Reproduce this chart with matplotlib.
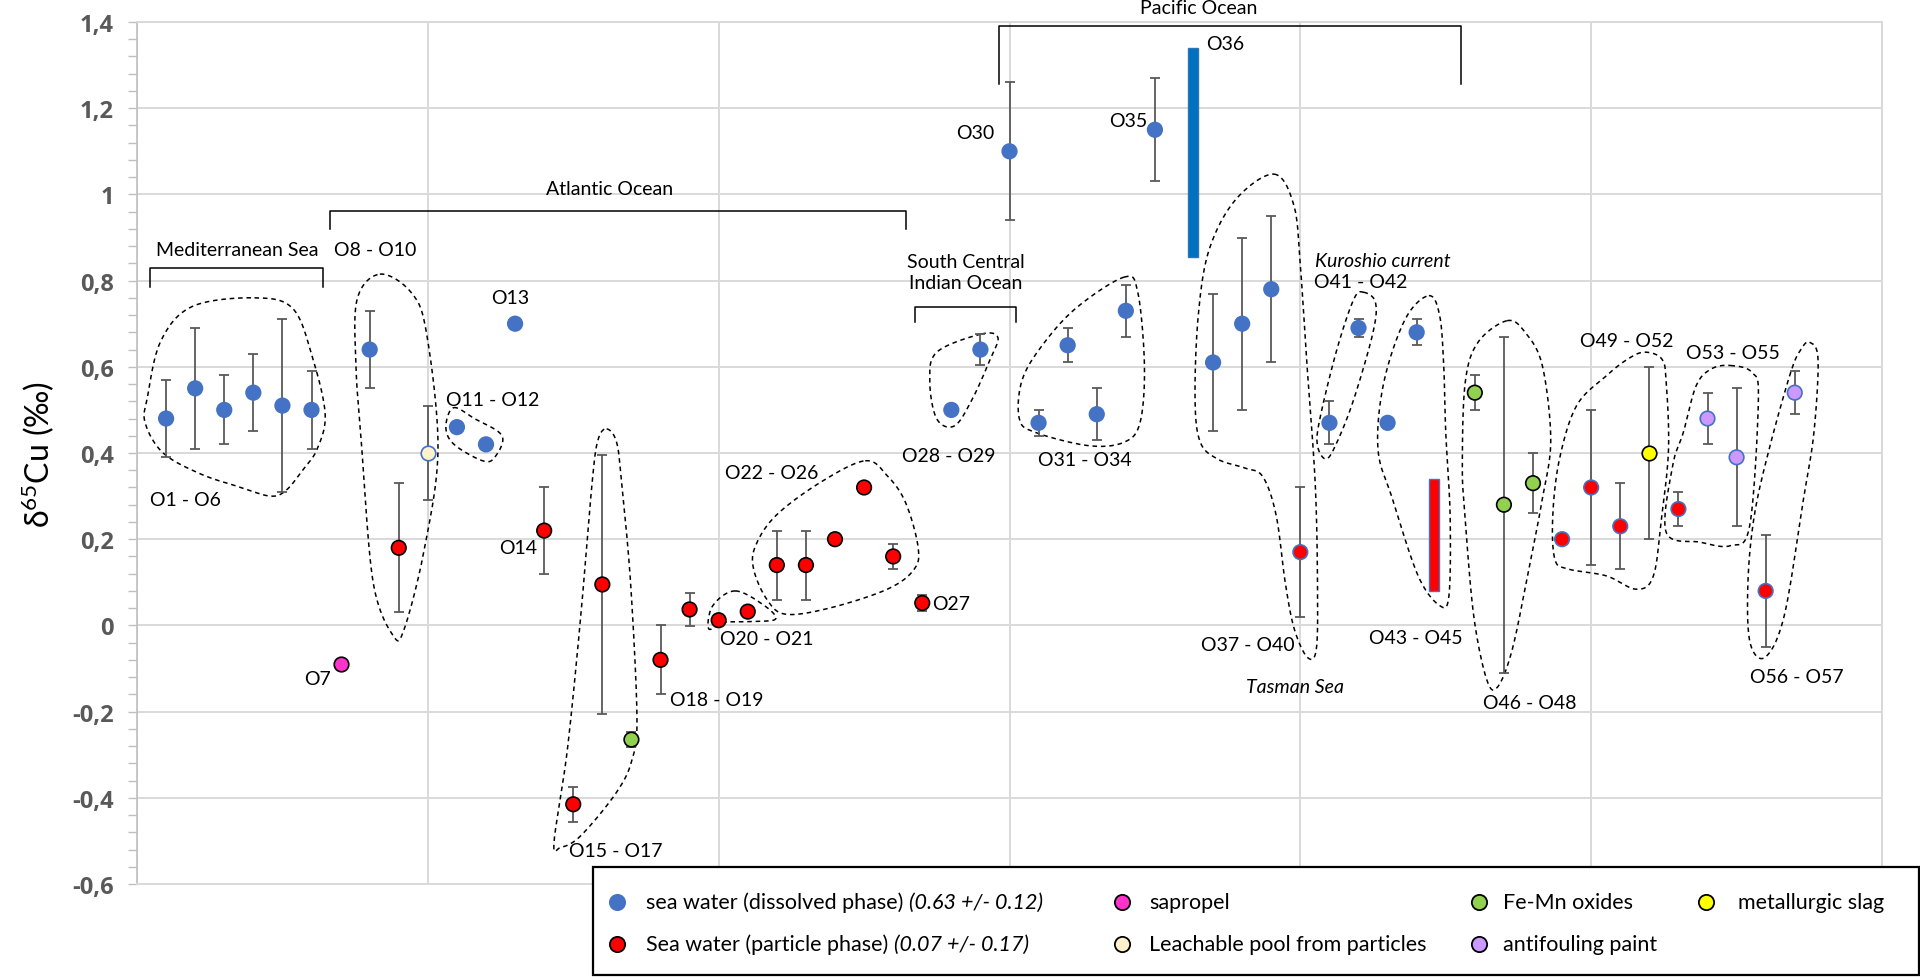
import numpy as np
import matplotlib
matplotlib.use("Agg")
import matplotlib.pyplot as plt
from matplotlib.lines import Line2D
from matplotlib.patches import Rectangle
from matplotlib.ticker import MultipleLocator

plt.rcParams['font.family'] = ['Lato', 'DejaVu Sans']
plt.rcParams['mathtext.fontset'] = 'custom'
plt.rcParams['mathtext.rm'] = 'Lato'
plt.rcParams['mathtext.it'] = 'Lato:italic'

# ---- data (sample index, delta65Cu, +/- error, kind) ----
sample_x = [1, 2, 3, 4, 5, 6, 7, 8, 9, 10, 11, 12, 13, 14, 15, 16, 17, 18, 19, 20,
            21, 22, 23, 24, 25, 26, 27, 28, 29, 30, 31, 32, 33, 34, 35, 37, 38, 39, 40,
            41, 42, 43, 44, 46, 47, 48, 49, 50, 51, 52, 53, 54, 55, 56, 57]
sample_val = [0.48, 0.55, 0.50, 0.54, 0.51, 0.50, -0.09, 0.64, 0.18, 0.40, 0.46, 0.42, 0.70,
              0.22, -0.415, 0.095, -0.265, -0.08, 0.037, 0.012, 0.032, 0.14, 0.14, 0.20, 0.32,
              0.16, 0.052, 0.50, 0.64, 1.10, 0.47, 0.65, 0.49, 0.73, 1.15, 0.61, 0.70, 0.78,
              0.17, 0.47, 0.69, 0.47, 0.68, 0.54, 0.28, 0.33, 0.20, 0.32, 0.23, 0.40, 0.27,
              0.48, 0.39, 0.08, 0.54]
sample_err = [0.09, 0.14, 0.08, 0.09, 0.20, 0.09, 0, 0.09, 0.15, 0.11, 0, 0, 0,
              0.10, 0.04, 0.30, 0.018, 0.08, 0.038, 0, 0, 0.08, 0.08, 0, 0,
              0.03, 0.018, 0, 0.035, 0.16, 0.03, 0.04, 0.06, 0.06, 0.12, 0.16, 0.20, 0.17,
              0.15, 0.05, 0.02, 0, 0.03, 0.04, 0.39, 0.07, 0, 0.18, 0.10, 0.20, 0.04,
              0.06, 0.16, 0.13, 0.05]
sample_kind = (['dissolved'] * 6 + ['sapropel', 'dissolved', 'particle', 'leach'] +
               ['dissolved'] * 3 + ['particle', 'particle', 'particle', 'femn'] +
               ['particle'] * 10 + ['dissolved'] * 11 + ['particle'] +
               ['dissolved'] * 4 + ['femn'] * 3 + ['particle'] * 3 + ['slag', 'particle'] +
               ['paint', 'paint', 'particle', 'paint'])
blue_edged = [40, 49, 50, 51, 53, 56]

# ranges drawn as bars (O36, O45)
range_x = [36.3, 44.6]
range_low = [0.855, 0.08]
range_high = [1.34, 0.34]

kind_style = {
    'dissolved': ('#4472C4', '#4472C4'),
    'particle': ('#FF0000', '#000000'),
    'sapropel': ('#FF33CC', '#000000'),
    'leach': ('#FFF2CC', '#4472C4'),
    'femn': ('#92D050', '#000000'),
    'slag': ('#FFFF00', '#000000'),
    'paint': ('#CC99FF', '#4472C4'),
}

# hand drawn group outlines (annotation shapes, data coords)
outlines = [
    [(4.04, 0.76), (5.36, 0.735), (6.04, 0.62), (6.47, 0.49), (6.2, 0.41), (5.73, 0.363),
     (5.12, 0.313), (4.58, 0.30), (3.58, 0.32), (2.2, 0.351), (0.9, 0.40), (0.28, 0.47),
     (0.36, 0.53), (0.82, 0.66), (1.9, 0.74)],
    [(8.35, 0.815), (9.42, 0.773), (9.95, 0.68), (10.35, 0.41), (9.88, 0.177), (9.19, -0.008),
     (8.81, -0.024), (8.12, 0.10), (7.73, 0.41), (7.53, 0.60), (7.57, 0.757)],
    [(10.88, 0.505), (11.6, 0.48), (12.55, 0.44), (12.3, 0.39), (11.88, 0.382), (10.9, 0.42),
     (10.62, 0.46)],
    [(16.15, 0.456), (16.49, 0.425), (16.66, 0.332), (16.97, 0.1), (17.19, -0.21), (17.03, -0.31),
     (16.49, -0.387), (15.26, -0.488), (14.57, -0.515), (14.34, -0.503), (14.8, -0.287),
     (15.26, 0.023), (15.65, 0.332), (15.85, 0.43)],
    [(20.57, 0.08), (21.57, 0.046), (21.96, 0.015), (21.2, 0.009), (20.2, 0.007), (19.66, -0.008),
     (19.8, 0.046)],
    [(25.04, 0.382), (25.8, 0.347), (26.42, 0.286), (26.85, 0.185), (26.73, 0.131), (25.8, 0.084),
     (23.8, 0.04), (22.3, 0.026), (21.65, 0.061), (21.2, 0.131), (21.27, 0.185), (21.97, 0.255),
     (23.5, 0.332)],
    [(29.03, 0.676), (29.6, 0.668), (29.34, 0.618), (28.72, 0.525), (28.11, 0.463), (27.5, 0.479),
     (27.26, 0.564), (27.5, 0.634)],
    [(33.94, 0.808), (34.41, 0.773), (34.64, 0.603), (34.49, 0.471), (33.94, 0.425), (32.72, 0.417),
     (30.88, 0.448), (30.34, 0.479), (30.41, 0.564), (31.03, 0.641), (32.25, 0.734)],
    [(39.1, 1.047), (39.78, 0.974), (40.0, 0.835), (40.23, 0.603), (40.51, 0.332), (40.59, 0.1),
     (40.55, -0.055), (40.24, -0.074), (39.79, -0.008), (39.48, 0.1), (39.17, 0.255),
     (38.71, 0.345), (38.1, 0.365), (37.18, 0.385), (36.56, 0.425), (36.38, 0.525),
     (36.49, 0.719), (36.87, 0.873), (37.79, 0.989)],
    [(42.17, 0.773), (42.58, 0.75), (42.5, 0.68), (41.84, 0.525), (41.26, 0.425), (40.89, 0.386),
     (40.59, 0.417), (40.67, 0.479), (41.26, 0.641), (41.84, 0.757)],
    [(44.42, 0.765), (44.79, 0.719), (44.93, 0.603), (45.0, 0.448), (45.15, 0.255), (45.11, 0.069),
     (44.79, 0.046), (44.05, 0.115), (43.17, 0.293), (42.67, 0.409), (42.87, 0.564), (43.61, 0.711)],
    [(47.11, 0.707), (47.73, 0.68), (48.32, 0.603), (48.61, 0.43), (48.32, 0.293), (47.88, 0.139),
     (47.29, -0.055), (46.77, -0.144), (46.4, -0.124), (45.96, 0.023), (45.66, 0.255),
     (45.57, 0.371), (45.67, 0.564), (46.11, 0.657)],
    [(51.84, 0.634), (52.43, 0.618), (52.58, 0.564), (52.66, 0.409), (52.43, 0.255), (52.14, 0.115),
     (51.55, 0.084), (50.52, 0.115), (49.2, 0.131), (48.75, 0.154), (48.68, 0.255), (48.91, 0.386),
     (49.5, 0.51), (50.52, 0.579), (51.26, 0.618)],
    [(54.79, 0.603), (55.53, 0.587), (55.75, 0.525), (55.45, 0.231), (54.79, 0.185), (53.76, 0.193),
     (52.58, 0.216), (52.8, 0.37), (53.17, 0.448), (53.61, 0.556), (54.13, 0.595)],
    [(57.51, 0.657), (57.8, 0.618), (57.66, 0.448), (57.3, 0.293), (56.64, 0.023), (55.98, -0.074),
     (55.46, -0.039), (55.39, 0.1), (55.61, 0.255), (56.12, 0.409), (56.86, 0.587), (57.22, 0.641)],
]

# brackets: x start, x end, top, leg bottom
brackets = [(0.45, 6.4, 0.83, 0.784), (6.65, 26.45, 0.961, 0.92),
            (26.76, 30.23, 0.738, 0.704), (29.64, 45.52, 1.391, 1.257)]

labels = [
    ("Mediterranean Sea", 3.43, 0.873, 'normal', 'center'),
    ("O1 - O6", 1.66, 0.292, 'normal', 'center'),
    ("O7", 6.2, -0.124, 'normal', 'center'),
    ("O8 - O10", 8.19, 0.873, 'normal', 'center'),
    ("O11 - O12", 12.23, 0.525, 'normal', 'center'),
    ("O13", 12.83, 0.76, 'normal', 'center'),
    ("O14", 13.11, 0.181, 'normal', 'center'),
    ("O15 - O17", 16.46, -0.523, 'normal', 'center'),
    ("O18 - O19", 19.92, -0.171, 'normal', 'center'),
    ("O20 - O21", 21.65, -0.03, 'normal', 'center'),
    ("O22 - O26", 21.84, 0.355, 'normal', 'center'),
    ("O27", 27.34, 0.05, 'normal', 'left'),
    ("Atlantic Ocean", 16.25, 1.014, 'normal', 'center'),
    ("South Central\nIndian Ocean", 28.49, 0.82, 'normal', 'center'),
    ("O28 - O29", 27.92, 0.395, 'normal', 'center'),
    ("O30", 28.83, 1.144, 'normal', 'center'),
    ("O31 - O34", 32.6, 0.384, 'normal', 'center'),
    ("O35", 34.07, 1.171, 'normal', 'center'),
    ("O36", 37.41, 1.349, 'normal', 'center'),
    ("Pacific Ocean", 36.49, 1.434, 'normal', 'center'),
    ("O37 - O40", 38.18, -0.045, 'normal', 'center'),
    ("Tasman Sea", 39.8, -0.141, 'italic', 'center'),
    ("Kuroshio current", 42.82, 0.846, 'italic', 'center'),
    ("O41 - O42", 42.08, 0.798, 'normal', 'center'),
    ("O43 - O45", 43.98, -0.028, 'normal', 'center'),
    ("O46 - O48", 47.9, -0.178, 'normal', 'center'),
    ("O49 - O52", 51.22, 0.66, 'normal', 'center'),
    ("O53 - O55", 54.86, 0.634, 'normal', 'center'),
    ("O56 - O57", 57.07, -0.118, 'normal', 'center'),
]


def smooth_closed(pts, n=24):
    """closed Catmull-Rom curve through the control points"""
    P = np.array(pts, dtype=float)
    k = len(P)
    t = np.linspace(0, 1, n, endpoint=False)[:, None]
    seg = []
    for i in range(k):
        p0, p1, p2, p3 = P[(i - 1) % k], P[i], P[(i + 1) % k], P[(i + 2) % k]
        seg.append(0.5 * (2 * p1 + (-p0 + p2) * t + (2 * p0 - 5 * p1 + 4 * p2 - p3) * t ** 2
                          + (-p0 + 3 * p1 - 3 * p2 + p3) * t ** 3))
    out = np.vstack(seg)
    return np.vstack([out, out[:1]])


W, H = 1920, 978
fig = plt.figure(figsize=(W / 100, H / 100), dpi=100)
ax = fig.add_axes([137 / W, 93 / H, 1745 / W, 862 / H])
ax.set_xlim(0, 60)
ax.set_ylim(-0.6, 1.4)

# grid / axes look
ax.set_xticks(range(0, 61, 10))
ax.tick_params(axis='x', length=0, labelbottom=False)
ax.yaxis.set_minor_locator(MultipleLocator(0.04))
ax.tick_params(axis='y', which='both', direction='out', length=6.5, width=1, color='#BFBFBF',
               labelsize=17, labelcolor='#595959', pad=10)
yt = [round(v, 1) for v in np.arange(-0.6, 1.41, 0.2)]
ax.set_yticks(yt, ['{:g}'.format(v).replace('.', ',') for v in yt])
for lab in ax.get_yticklabels():
    lab.set_fontfamily(['Open Sans', 'Noto Sans', 'DejaVu Sans'])
    lab.set_fontweight('bold')
ax.grid(True, which='major', color='#D9D9D9', lw=1.4)
ax.set_axisbelow(True)
for s in ['top', 'right', 'bottom']:
    ax.spines[s].set_color('#D9D9D9')
    ax.spines[s].set_linewidth(1.4)
ax.spines['left'].set_color('#BFBFBF')
ax.spines['left'].set_linewidth(1.2)
ax.set_ylabel('δ$^{65}$Cu (‰)', fontsize=23)
ax.yaxis.set_label_coords(-0.046, 0.5)

# outlines and brackets
for o in outlines:
    c = smooth_closed(o)
    ax.plot(c[:, 0], c[:, 1], color='black', lw=1.1, ls=(0, (3, 2.5)), zorder=2)
for x0, x1, yt_, yb in brackets:
    ax.plot([x0, x0, x1, x1], [yb, yt_, yt_, yb], color='black', lw=1.1, zorder=2,
            solid_joinstyle='round')

# error bars
sx = np.array(sample_x, dtype=float)
sv = np.array(sample_val)
se = np.array(sample_err)
has = se > 0
ax.errorbar(sx[has], sv[has], yerr=se[has], fmt='none', ecolor='#595959', elinewidth=1.3,
            capsize=3.6, capthick=1.3, zorder=3)

# range bars
ax.bar(range_x, np.subtract(range_high, range_low), bottom=range_low, width=0.34,
       color=['#0070C0', '#FF0000'], edgecolor=['#2E75B6', '#4472C4'], lw=1.0, zorder=3)

# points
kinds = np.array(sample_kind)
for k, (fc, ec) in kind_style.items():
    m = kinds == k
    if not m.any():
        continue
    edges = ['#4472C4' if int(x) in blue_edged else ec for x in sx[m]]
    ax.scatter(sx[m], sv[m], s=110, c=fc, edgecolors=edges, linewidths=1.2, zorder=4)

for txt, x, y, st, ha in labels:
    ax.text(x, y, txt, fontsize=14, style=st, ha=ha, va='center', linespacing=1.3, zorder=5)

# legend box drawn by hand
fig.patches.append(Rectangle((593 / W, 2 / H), 1326 / W, 108 / H, transform=fig.transFigure,
                             facecolor='white', edgecolor='black', lw=1.6, zorder=10))
leg_items = [
    (617, 903, '#4472C4', '#4472C4', 646, 'sea water (dissolved phase)', '(0.63 +/- 0.12)'),
    (617, 945, '#FF0000', '#000000', 646, 'Sea water (particle phase)', '(0.07 +/- 0.17)'),
    (1122, 903, '#FF33CC', '#000000', 1149, 'sapropel', ''),
    (1122, 945, '#FFF2CC', '#000000', 1149, 'Leachable pool from particles', ''),
    (1479, 903, '#92D050', '#000000', 1503, 'Fe-Mn oxides', ''),
    (1479, 945, '#CC99FF', '#000000', 1503, 'antifouling paint', ''),
    (1706, 903, '#FFFF00', '#000000', 1738, 'metallurgic slag', ''),
]
renderer = fig.canvas.get_renderer()
for mx, my, fc, ec, tx, t1, t2 in leg_items:
    fig.add_artist(Line2D([mx / W], [1 - my / H], transform=fig.transFigure, marker='o',
                          markersize=11, markerfacecolor=fc, markeredgecolor=ec,
                          markeredgewidth=1.3, ls='none', zorder=11))
    t = fig.text(tx / W, 1 - my / H, t1, fontsize=15.5, ha='left', va='center', zorder=11)
    if t2:
        bb = t.get_window_extent(renderer)
        fig.text((bb.x1 + 6) / W, 1 - my / H, t2, fontsize=15.5, style='italic',
                 ha='left', va='center', zorder=11)

fig.savefig('out.png', dpi=100)
